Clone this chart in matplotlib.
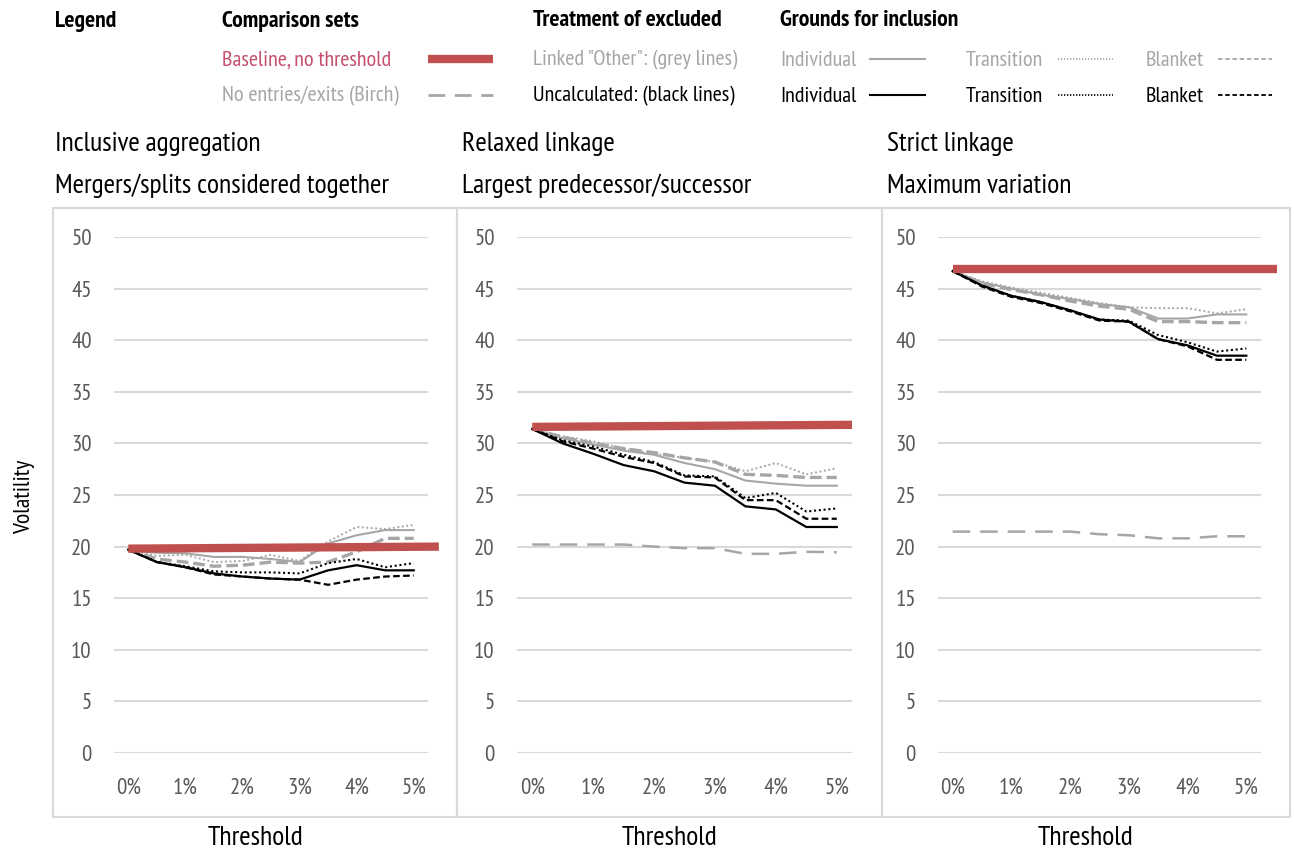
import matplotlib
matplotlib.use("Agg")
import matplotlib.pyplot as plt
from matplotlib.lines import Line2D
from matplotlib.patches import Rectangle
from matplotlib import font_manager as fm

installed = set(f.name for f in fm.fontManager.ttflist)
wanted = ['PT Sans Narrow', 'Fira Sans Condensed', 'Roboto Condensed',
          'Open Sans Condensed', 'Archivo Narrow', 'Asap Condensed']
FONT = next((n for n in wanted if n in installed), 'DejaVu Sans')
plt.rcParams['font.family'] = [FONT, 'DejaVu Sans']

thresholds = [0, 0.5, 1, 1.5, 2, 2.5, 3, 3.5, 4, 4.5, 5]
tick_vals = [0, 1, 2, 3, 4, 5]
tick_labels = ['0%', '1%', '2%', '3%', '4%', '5%']
y_ticks = [0, 5, 10, 15, 20, 25, 30, 35, 40, 45, 50]

titles = [("Inclusive aggregation", "Mergers/splits considered together"),
          ("Relaxed linkage", "Largest predecessor/successor"),
          ("Strict linkage", "Maximum variation")]

# baseline (no threshold): start value, end value, end x
baseline_start = [19.8, 31.6, 46.9]
baseline_end = [20.0, 31.8, 46.9]
baseline_xend = [5.44, 5.25, 5.52]

# Birch (no entries/exits); hidden under baseline in panel 1
birch = [None,
         [20.2, 20.2, 20.2, 20.2, 20.0, 19.85, 19.85, 19.3, 19.3, 19.5, 19.45],
         [21.45, 21.45, 21.45, 21.45, 21.45, 21.2, 21.1, 20.8, 20.8, 21.0, 21.0]]

# Linked "Other" (grey)
grey_individual = [
    [19.7, 19.4, 19.35, 19.0, 19.0, 18.8, 18.5, 20.3, 21.1, 21.6, 21.6],
    [31.4, 30.5, 29.9, 29.3, 28.9, 28.1, 27.5, 26.4, 26.1, 25.9, 25.9],
    [46.7, 45.6, 45.0, 44.4, 44.0, 43.5, 43.2, 42.1, 42.1, 42.5, 42.5]]
grey_transition = [
    [19.7, 19.1, 19.2, 18.5, 18.6, 19.2, 18.6, 20.5, 21.9, 21.7, 22.1],
    [31.4, 30.7, 30.2, 29.5, 29.0, 28.6, 28.2, 27.3, 28.1, 27.0, 27.6],
    [46.7, 45.7, 45.1, 44.6, 44.1, 43.6, 43.2, 43.1, 43.1, 42.6, 43.0]]
grey_blanket = [
    [19.7, 18.8, 18.5, 18.1, 18.2, 18.5, 18.4, 18.5, 19.5, 20.8, 20.8],
    [31.4, 30.6, 30.0, 29.5, 29.1, 28.6, 28.2, 27.0, 26.9, 26.7, 26.7],
    [46.7, 45.5, 44.9, 44.4, 43.8, 43.3, 43.0, 41.8, 41.8, 41.7, 41.7]]

# Uncalculated (black)
black_individual = [
    [19.7, 18.5, 18.0, 17.4, 17.1, 16.9, 16.8, 17.7, 18.2, 17.7, 17.7],
    [31.4, 30.0, 29.0, 27.9, 27.3, 26.2, 25.9, 23.9, 23.6, 21.9, 21.9],
    [46.7, 45.3, 44.3, 43.7, 42.9, 42.0, 41.8, 40.1, 39.5, 38.5, 38.5]]
black_transition = [
    [19.7, 18.5, 18.1, 17.6, 17.5, 17.5, 17.4, 18.4, 18.8, 18.0, 18.4],
    [31.4, 30.3, 29.7, 28.9, 28.2, 26.9, 26.8, 24.7, 25.2, 23.4, 23.7],
    [46.7, 45.3, 44.3, 43.7, 42.9, 42.0, 41.9, 40.5, 39.8, 38.9, 39.2]]
black_blanket = [
    [19.7, 18.5, 18.0, 17.3, 17.1, 16.9, 16.8, 16.3, 16.8, 17.1, 17.2],
    [31.4, 30.2, 29.5, 28.7, 28.1, 26.8, 26.7, 24.5, 24.5, 22.7, 22.7],
    [46.7, 45.2, 44.2, 43.6, 42.8, 41.9, 41.8, 40.1, 39.4, 38.1, 38.1]]

RED = '#c0504d'
RED_TXT = '#c4506e'
GREY = '#a6a6a6'
GRID = '#d9d9d9'
TICK = '#595959'

W, H = 1294, 858
fig = plt.figure(figsize=(W / 100, H / 100), dpi=100)

def fx(px):
    return px / W

def fy(py):
    return 1 - py / H

styles = {
    'birch': dict(color=GREY, lw=1.8, dashes=(7, 4)),
    'g_ind': dict(color=GREY, lw=1.5, ls='-'),
    'g_tra': dict(color=GREY, lw=1.4, dashes=(1, 1.3)),
    'g_bla': dict(color=GREY, lw=2.4, dashes=(3.5, 1.5)),
    'k_ind': dict(color='black', lw=1.6, ls='-'),
    'k_tra': dict(color='black', lw=1.5, dashes=(1, 1.3)),
    'k_bla': dict(color='black', lw=1.6, dashes=(3, 1.5)),
}

panel_x = [(114, 428), (517, 852), (938, 1261)]
box_x = [(53, 457), (457, 882), (882, 1290)]
title_x = [55, 462, 887]

for i in range(3):
    x0, x1 = panel_x[i]
    ax = fig.add_axes([fx(x0), fy(753), fx(x1 - x0), (753 - 237) / H])
    ax.set_xlim(-0.25, 5.25)
    ax.set_ylim(0, 50)
    ax.set_yticks(y_ticks)
    ax.set_xticks(tick_vals)
    ax.set_xticklabels(tick_labels)
    ax.tick_params(length=0, colors=TICK, labelsize=16.5)
    ax.tick_params(axis='y', pad=16)
    ax.tick_params(axis='x', pad=18)
    ax.grid(axis='y', color=GRID, lw=1.5)
    ax.set_axisbelow(True)
    for s in ax.spines.values():
        s.set_visible(False)
    ax.patch.set_alpha(0)

    if birch[i] is not None:
        ax.plot(thresholds, birch[i], **styles['birch'])
    ax.plot(thresholds, grey_individual[i], **styles['g_ind'])
    ax.plot(thresholds, grey_transition[i], **styles['g_tra'])
    ax.plot(thresholds, grey_blanket[i], **styles['g_bla'])
    ax.plot(thresholds, black_individual[i], **styles['k_ind'])
    ax.plot(thresholds, black_transition[i], **styles['k_tra'])
    ax.plot(thresholds, black_blanket[i], **styles['k_bla'])
    ax.plot([0, baseline_xend[i]], [baseline_start[i], baseline_end[i]],
            color=RED, lw=6, solid_capstyle='butt', clip_on=False, zorder=5)

    ax.set_xlabel("Threshold", fontsize=20)
    ax.xaxis.set_label_coords(((box_x[i][0] + box_x[i][1]) / 2 - x0) / (x1 - x0),
                              -(838 - 753) / (753 - 237))
    ax.xaxis.label.set_va('center')

    bx0, bx1 = box_x[i]
    fig.add_artist(Rectangle((fx(bx0), fy(817)), fx(bx1 - bx0), (817 - 208) / H,
                             transform=fig.transFigure, fill=False,
                             edgecolor=GRID, lw=1.5))
    fig.text(fx(title_x[i]), fy(144), titles[i][0], fontsize=20, va='center')
    fig.text(fx(title_x[i]), fy(186), titles[i][1], fontsize=20, va='center')

fig.text(fx(25), fy(497), "Volatility", rotation=90, fontsize=17,
         va='center', ha='center')

# legend block
def leg_line(xa, xb, y, **kw):
    fig.add_artist(Line2D([fx(xa), fx(xb)], [fy(y), fy(y)],
                          transform=fig.transFigure, **kw))

hdr = dict(fontsize=17, fontweight='bold', va='center')
fig.text(fx(55), fy(21), "Legend", **hdr)
fig.text(fx(222), fy(21), "Comparison sets", **hdr)
fig.text(fx(533), fy(21), "Treatment of excluded", **hdr)
fig.text(fx(780), fy(21), "Grounds for inclusion", **hdr)

lt = dict(fontsize=16, va='center')
fig.text(fx(222), fy(60), "Baseline, no threshold", color=RED_TXT, **lt)
leg_line(428, 493, 59, color=RED, lw=6, solid_capstyle='butt')
fig.text(fx(222), fy(96), "No entries/exits (Birch)", color=GREY, **lt)
leg_line(428, 493, 95, color=GREY, lw=2, dashes=(6, 3.5))

fig.text(fx(533), fy(60), 'Linked "Other": (grey lines)', color=GREY, **lt)
fig.text(fx(533), fy(96), "Uncalculated: (black lines)", color='black', **lt)

row_specs = [(59, GREY), (95, 'black')]
for y, c in row_specs:
    fig.text(fx(780), fy(y + 1), "Individual", color=c, **lt)
    leg_line(870, 925, y, color=c, lw=1.5)
    fig.text(fx(966), fy(y + 1), "Transition", color=c, **lt)
    leg_line(1058, 1113, y, color=c, lw=1.2, dashes=(0.8, 1.0))
    fig.text(fx(1146), fy(y + 1), "Blanket", color=c, **lt)
    leg_line(1218, 1272, y, color=c, lw=1.3, dashes=(2.5, 1.5))

fig.savefig("out.png", dpi=100)
